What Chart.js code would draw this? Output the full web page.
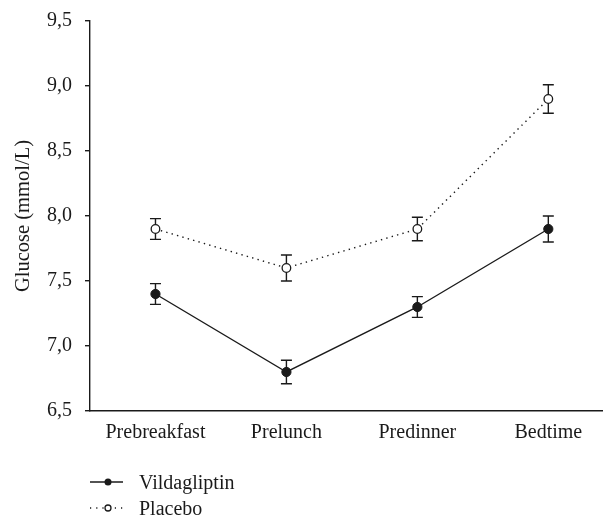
<!DOCTYPE html>
<html>
<head>
<meta charset="utf-8">
<script src="https://cdn.jsdelivr.net/npm/chart.js@4"></script>
<style>
  html, body { margin: 0; padding: 0; background: #fff; }
  #wrap { position: relative; width: 603px; height: 518px; }
  #legend { position: absolute; left: 88px; top: 469px; font-family: "Liberation Serif", serif; font-size: 20px; color: #1a1a1a; }
  .row { display: flex; align-items: center; height: 26px; }
  .row svg { margin-right: 15px; }
</style>
</head>
<body>
<div id="wrap">
  <canvas id="c" width="603" height="518"></canvas>
  <div id="legend"></div>
</div>
<script>
const categories = ["Prebreakfast", "Prelunch", "Predinner", "Bedtime"];
const seriesNames = ["Vildagliptin", "Placebo"];
const vildagliptin = [7.4, 6.8, 7.3, 7.9];
const vildagliptinErr = [0.08, 0.09, 0.08, 0.10];
const placebo = [7.9, 7.6, 7.9, 8.9];
const placeboErr = [0.08, 0.10, 0.09, 0.11];
const yTicks = [6.5, 7.0, 7.5, 8.0, 8.5, 9.0, 9.5];

const INK = '#1a1a1a';
const FONT = '"Liberation Serif", serif';

const errors = [vildagliptinErr, placeboErr];

const errorBars = {
  id: 'errorBars',
  beforeDatasetsDraw(chart) {
    const ctx = chart.ctx;
    const xs = chart.scales.x, ys = chart.scales.y;
    ctx.save();
    ctx.strokeStyle = INK;
    ctx.lineWidth = 1.4;
    chart.data.datasets.forEach((ds, di) => {
      ds.data.forEach((p, i) => {
        const e = errors[di][i];
        const x = xs.getPixelForValue(p.x);
        const yt = ys.getPixelForValue(p.y + e);
        const yb = ys.getPixelForValue(p.y - e);
        ctx.beginPath();
        ctx.moveTo(x, yt); ctx.lineTo(x, yb);
        ctx.moveTo(x - 5.5, yt); ctx.lineTo(x + 5.5, yt);
        ctx.moveTo(x - 5.5, yb); ctx.lineTo(x + 5.5, yb);
        ctx.stroke();
      });
    });
    ctx.restore();
  }
};

const toPts = arr => arr.map((v, i) => ({ x: i, y: v }));

new Chart(document.getElementById('c'), {
  type: 'line',
  data: {
    datasets: [
      {
        label: seriesNames[0],
        data: toPts(vildagliptin),
        borderColor: INK, borderWidth: 1.4,
        pointRadius: 4.6, pointBackgroundColor: INK, pointBorderColor: INK, pointBorderWidth: 1,
        tension: 0, fill: false
      },
      {
        label: seriesNames[1],
        data: toPts(placebo),
        borderColor: INK, borderWidth: 1.4, borderDash: [1.4, 4.2],
        pointRadius: 4.3, pointBackgroundColor: '#fff', pointBorderColor: INK, pointBorderWidth: 1.3,
        tension: 0, fill: false
      }
    ]
  },
  options: {
    responsive: false,
    animation: false,
    devicePixelRatio: 1,
    layout: { autoPadding: false, padding: { top: 21, right: 1, left: 0, bottom: 0 } },
    plugins: { legend: { display: false }, tooltip: { enabled: false } },
    scales: {
      x: {
        type: 'linear',
        min: -0.5,
        max: 3.41,
        afterBuildTicks: s => { s.ticks = categories.map((c, i) => ({ value: i })); },
        afterFit: s => { s.height = 107; s.paddingLeft = 0; s.paddingRight = 0; },
        grid: { display: false, drawTicks: false },
        border: { display: true, color: INK, width: 1.4 },
        ticks: {
          padding: 10,
          color: INK,
          font: { family: FONT, size: 20 },
          callback: v => categories[v]
        }
      },
      y: {
        type: 'linear',
        min: 6.5,
        max: 9.5,
        afterBuildTicks: s => { s.ticks = yTicks.map(v => ({ value: v })); },
        afterFit: s => { s.width = 90; s.paddingTop = 0; s.paddingBottom = 0; },
        grid: { display: true, drawOnChartArea: false, drawTicks: true, tickLength: 5, color: INK, lineWidth: 1.4 },
        border: { display: true, color: INK, width: 1.4 },
        title: {
          display: true,
          text: 'Glucose (mmol/L)',
          color: INK,
          font: { family: FONT, size: 20.5 },
          padding: { top: 11, bottom: 0 }
        },
        ticks: {
          padding: 13,
          color: INK,
          font: { family: FONT, size: 20 },
          callback: v => v.toFixed(1).replace('.', ',')
        }
      }
    }
  },
  plugins: [errorBars]
});

// legend (HTML, line samples as small SVGs)
const legend = document.getElementById('legend');
const samples = [
  '<svg width="36" height="12"><line x1="2" y1="6" x2="35" y2="6" stroke="' + INK + '" stroke-width="1.4"/><circle cx="20" cy="6" r="3.5" fill="' + INK + '"/></svg>',
  '<svg width="36" height="12"><line x1="2" y1="6" x2="35" y2="6" stroke="' + INK + '" stroke-width="1.4" stroke-dasharray="1.2 5"/><circle cx="20" cy="6" r="3" fill="#fff" stroke="' + INK + '" stroke-width="1.3"/></svg>'
];
seriesNames.forEach((n, i) => {
  const row = document.createElement('div');
  row.className = 'row';
  row.innerHTML = samples[i] + '<span>' + n + '</span>';
  legend.appendChild(row);
});
</script>
</body>
</html>
